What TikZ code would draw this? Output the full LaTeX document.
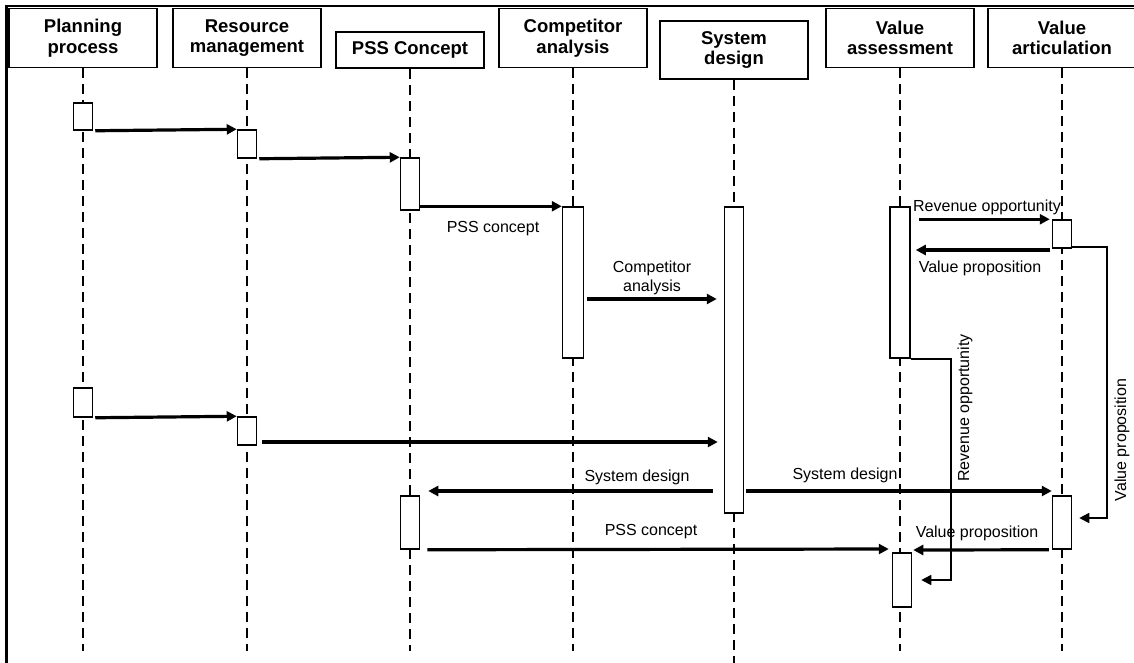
\documentclass[tikz,border=0pt]{standalone}
\usepackage{fontspec}
\setmainfont{Liberation Sans}
\usetikzlibrary{arrows.meta,calc}

\begin{document}
\begin{tikzpicture}[x=1pt,y=-1pt,
  head/.style={draw,line width=1.5pt,minimum width=148pt,align=center,
    inner sep=0pt,font=\fontsize{18.5}{20.5}\selectfont\bfseries},
  act/.style={draw,fill=white,line width=1.5pt,minimum width=19pt,inner sep=0pt},
  life/.style={line width=1.4pt,dash pattern=on 10pt off 6pt},
  msg/.style={line width=3.2pt,-{Triangle[length=10pt,width=10pt]}},
  ret/.style={line width=1.6pt,-{Triangle[length=10pt,width=10pt]}},
  lbl/.style={font=\fontsize{16}{19}\selectfont,inner sep=0pt,align=center}]

  \useasboundingbox (0,0) rectangle (1134,662);
  \draw[line width=2.5pt] (6.5,664) -- (6.5,6) -- (1136,6);

  % lanes
  \node[head,minimum height=59pt] (hp) at (83,38) {Planning\\process};
  \node[head,minimum height=59pt] (hr) at (247,38) {Resource\\management};
  \node[head,minimum height=36pt] (hc) at (410,50) {PSS Concept};
  \node[head,minimum height=59pt] (ha) at (573,38) {Competitor\\analysis};
  \node[head,minimum height=58pt] (hs) at (734,50) {System\\design};
  \node[head,minimum height=59pt] (hv) at (900,38) {Value\\assessment};
  \node[head,minimum height=59pt] (ht) at (1062,38) {Value\\articulation};

  \foreach \n in {hp,hr,hc,ha,hv,ht}
    \draw[life] (\n.south) -- (\n.south |- 0,651);
  \draw[life] (hs.south) -- (hs.south |- 0,664);

  % activations
  \node[act,minimum height=27pt] (p1) at (83,116.5) {};
  \node[act,minimum height=28pt] (r1) at (247,144) {};
  \node[act,minimum height=52pt] (c1) at (410,184) {};
  \node[act,minimum height=151pt,minimum width=21pt] (a1) at (573,282.5) {};
  \node[act,minimum height=306pt] (s1) at (734,360) {};
  \node[act,minimum height=151pt,minimum width=20pt] (v1) at (900,282.5) {};
  \node[act,minimum height=28pt] (t1) at (1062,234) {};
  \node[act,minimum height=29pt] (p2) at (83,402.5) {};
  \node[act,minimum height=28pt] (r2) at (247,431) {};
  \node[act,minimum height=53pt] (c2) at (410,522.5) {};
  \node[act,minimum height=53pt] (t2) at (1062,522.5) {};
  \node[act,minimum height=54pt] (v2) at (902,580) {};

  % messages
  \draw[msg] ($(p1.south east)+(2,0)$) -- (r1.north west);
  \draw[msg] ($(r1.south east)+(2,0)$) -- (c1.north west);
  \draw[msg] (c1.east |- a1.north) -- (a1.north west);
  \draw[msg] ($(a1.east |- 0,299)+(3,0)$) -- ($(s1.west |- 0,299)+(-7,0)$);
  \draw[msg] ($(v1.east |- t1.north)+(8,0)$) -- ($(t1.north west)+(-2,0)$);
  \draw[msg] ($(t1.west |- 0,250)+(-2,0)$) -- ($(v1.east |- 0,250)+(5,0)$);
  \draw[msg] ($(p2.south east)+(2,0)$) -- (r2.north west);
  \draw[msg] ($(r2.east |- 0,442)+(5,0)$) -- ($(s1.west |- 0,442)+(-6,0)$);
  \draw[msg] ($(s1.west |- 0,491)+(-11,0)$) -- ($(c2.east |- 0,491)+(8,0)$);
  \draw[msg] ($(s1.east |- 0,491)+(2,0)$) -- (t2.west |- 0,491);
  \draw[msg] ($(c2.south east)+(7,0)$) -- ($(v2.west |- 0,549)+(-3,0)$);
  \draw[msg] ($(t2.south west)+(-3,0)$) -- ($(v2.east |- 0,550)+(1,0)$);
  \draw[ret] (v1.south east) -- ++(40,0) |- ($(v2.east)+(9,0)$);
  \draw[ret] ($(t1.south east)+(0,-2)$) -- ++(35,0) |- ($(t2.east |- 0,518)+(7,0)$);

  % labels
  \node[lbl] (l1) at (493,229) {PSS concept};
  \node[lbl] (l2) at (652,278) {Competitor\\analysis};
  \node[lbl] (l3) at (987,207) {Revenue opportunity};
  \node[lbl] (l4) at (980,268) {Value proposition};
  \node[lbl] (l5) at (637,477) {System design};
  \node[lbl] (l6) at (845,475) {System design};
  \node[lbl] (l7) at (651,532) {PSS concept};
  \node[lbl] (l8) at (977,533) {Value proposition};
  \node[lbl,rotate=90] (l9) at (965,408) {Revenue opportunity};
  \node[lbl,rotate=90] (l10) at (1122,440) {Value proposition};
\end{tikzpicture}
\end{document}
